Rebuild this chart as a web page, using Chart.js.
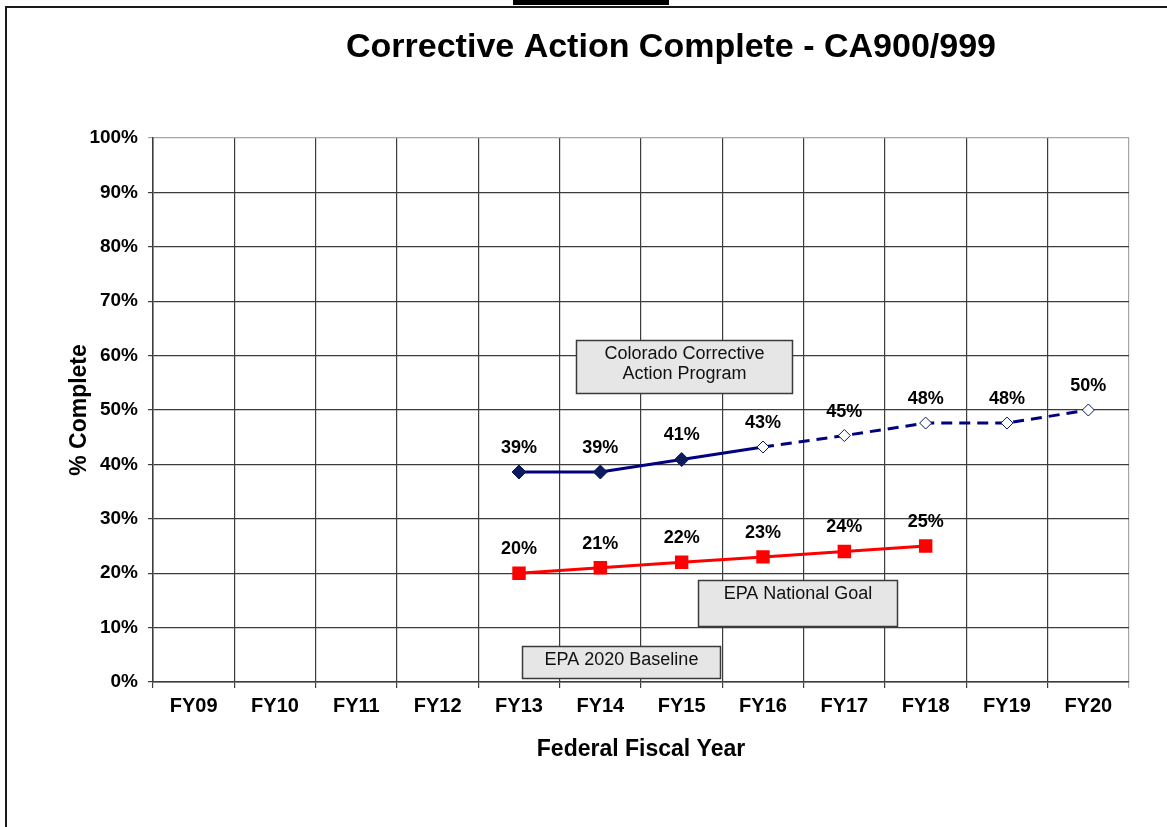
<!DOCTYPE html>
<html>
<head>
<meta charset="utf-8">
<script src="https://cdn.jsdelivr.net/npm/chart.js@4.4.1/dist/chart.umd.min.js"></script>
<style>
  html, body { margin: 0; padding: 0; background: #fff; }
  #wrap { position: relative; width: 1167px; height: 827px; overflow: hidden; }
  canvas { position: absolute; left: 0; top: 0; }
  .frame { position: absolute; background: #1a1a1a; }
</style>
</head>
<body>
<div id="wrap">
  <canvas id="c" width="1167" height="827"></canvas>
  <div class="frame" style="left:5px; top:6px; width:1162px; height:2px;"></div>
  <div class="frame" style="left:5px; top:6px; width:2px; height:821px;"></div>
  <div class="frame" style="left:513px; top:0px; width:156px; height:5px; background:#000;"></div>
</div>
<script>
// ---- data ----
const categories = ['FY09', 'FY10', 'FY11', 'FY12', 'FY13', 'FY14', 'FY15', 'FY16', 'FY17', 'FY18', 'FY19', 'FY20'];
const coloradoValues = [null, null, null, null, 38.6, 38.6, 40.9, 43.2, 45.3, 47.6, 47.6, 50.0];
const epaGoalValues = [null, null, null, null, 20, 21, 22, 23, 24, 25, null, null];
const coloradoProjectedFrom = 7; // FY16 onward shown as projection (hollow markers, dashed)
const yTickValues = [0, 10, 20, 30, 40, 50, 60, 70, 80, 90, 100];

const titleText = 'Corrective Action Complete - CA900/999';
const xTitle = 'Federal Fiscal Year';
const yTitle = '% Complete';

// text boxes, placed in data coordinates (category index, percent)
const noteBoxes = [
  { lines: ['Colorado Corrective', 'Action Program'], x0: 4.70, x1: 7.36, y0: 62.9, y1: 53.1 },
  { lines: ['EPA National Goal'], x0: 6.20, x1: 8.65, y0: 18.8, y1: 10.3 },
  { lines: ['EPA 2020 Baseline'], x0: 4.04, x1: 6.47, y0: 6.6, y1: 0.7 }
];

const FONT = "'Liberation Sans', Arial, Helvetica, sans-serif";
const NAVY = '#000080';
const NAVY_MARK = '#0c1a5e';
const RED = '#ff0000';
const GRID = '#3c3c3c';
const GRID_LIGHT = '#a6a6a6';

const frameTitle = {
  id: 'frameTitle',
  afterDraw(chart) {
    const ctx = chart.ctx;
    ctx.save();
    ctx.fillStyle = '#000';
    ctx.font = 'bold 34px ' + FONT;
    ctx.textAlign = 'center';
    ctx.textBaseline = 'middle';
    ctx.fillText(titleText, 671, 48);
    ctx.restore();
  }
};

const notes = {
  id: 'notes',
  afterDatasetsDraw(chart) {
    const ctx = chart.ctx;
    const xs = chart.scales.x, ys = chart.scales.y;
    ctx.save();
    noteBoxes.forEach(b => {
      const left = Math.round(xs.getPixelForValue(b.x0)) + 0.5;
      const right = Math.round(xs.getPixelForValue(b.x1)) + 0.5;
      const top = Math.round(ys.getPixelForValue(b.y0)) + 0.5;
      const bottom = Math.round(ys.getPixelForValue(b.y1)) + 0.5;
      ctx.fillStyle = '#e6e6e6';
      ctx.fillRect(left, top, right - left, bottom - top);
      ctx.strokeStyle = '#3a3a3a';
      ctx.lineWidth = 1.5;
      ctx.strokeRect(left, top, right - left, bottom - top);
      ctx.fillStyle = '#111';
      ctx.font = '18px ' + FONT;
      ctx.textAlign = 'center';
      ctx.textBaseline = 'middle';
      b.lines.forEach((t, i) => {
        ctx.fillText(t, (left + right) / 2, top + 14 + i * 20);
      });
    });
    ctx.restore();
  }
};

const valueLabels = {
  id: 'valueLabels',
  afterDatasetsDraw(chart) {
    const ctx = chart.ctx;
    ctx.save();
    ctx.fillStyle = '#000';
    ctx.font = 'bold 18px ' + FONT;
    ctx.textAlign = 'center';
    ctx.textBaseline = 'middle';
    chart.data.datasets.forEach((ds, di) => {
      const meta = chart.getDatasetMeta(di);
      meta.data.forEach((pt, i) => {
        const v = ds.data[i];
        if (v === null || v === undefined) return;
        ctx.fillText(Math.round(v) + '%', pt.x, pt.y - 24);
      });
    });
    ctx.restore();
  }
};

new Chart(document.getElementById('c'), {
  type: 'line',
  data: {
    labels: categories,
    datasets: [
      {
        label: 'Colorado Corrective Action Program',
        data: coloradoValues,
        borderColor: NAVY,
        borderWidth: 3,
        pointStyle: 'rectRot',
        pointRadius: categories.map((c, i) => i >= coloradoProjectedFrom ? 6 : 7),
        pointBorderWidth: 1,
        pointBorderColor: NAVY_MARK,
        pointBackgroundColor: categories.map((c, i) => i >= coloradoProjectedFrom ? '#ffffff' : NAVY_MARK),
        segment: {
          borderDash: ctx => ctx.p0DataIndex >= coloradoProjectedFrom ? [11, 7] : undefined
        },
        tension: 0,
        fill: false,
        order: 2
      },
      {
        label: 'EPA National Goal',
        data: epaGoalValues,
        borderColor: RED,
        borderWidth: 3,
        pointStyle: 'rect',
        pointRadius: 9.5,
        pointBorderWidth: 0,
        pointBorderColor: RED,
        pointBackgroundColor: RED,
        tension: 0,
        fill: false,
        order: 1
      }
    ]
  },
  options: {
    responsive: false,
    animation: false,
    events: [],
    layout: { padding: { top: 138, right: 38, bottom: 0, left: 0 } },
    plugins: {
      legend: { display: false },
      title: { display: false },
      tooltip: { enabled: false }
    },
    scales: {
      x: {
        type: 'category',
        offset: true,
        grid: {
          offset: true,
          color: ctx => ctx.type === 'tick' ? GRID : GRID_LIGHT,
          lineWidth: 1.2,
          tickLength: 6,
          drawTicks: true
        },
        border: { display: true, color: GRID, width: 1.5 },
        ticks: {
          color: '#000',
          font: { family: FONT, size: 20, weight: 'bold' },
          padding: 6,
          maxRotation: 0,
          autoSkip: false
        },
        title: {
          display: true,
          text: xTitle,
          color: '#000',
          font: { family: FONT, size: 23, weight: 'bold' },
          padding: { top: 0, bottom: 64 }
        },
        afterFit: s => { s.height = 145; }
      },
      y: {
        min: 0,
        max: 100,
        afterBuildTicks: s => { s.ticks = yTickValues.map(v => ({ value: v })); },
        grid: {
          color: ctx => (ctx.tick && ctx.tick.value === 100) ? GRID_LIGHT : GRID,
          lineWidth: 1.2,
          tickLength: 5,
          drawTicks: true
        },
        border: { display: true, color: GRID, width: 1.5 },
        ticks: {
          color: '#000',
          font: { family: FONT, size: 19, weight: 'bold' },
          padding: 10,
          callback: v => v + '%'
        },
        title: {
          display: true,
          text: yTitle,
          color: '#000',
          font: { family: FONT, size: 23, weight: 'bold' },
          padding: { top: 66, bottom: 0 }
        },
        afterFit: s => { s.width = 153; }
      }
    }
  },
  plugins: [notes, valueLabels, frameTitle]
});
</script>
</body>
</html>
